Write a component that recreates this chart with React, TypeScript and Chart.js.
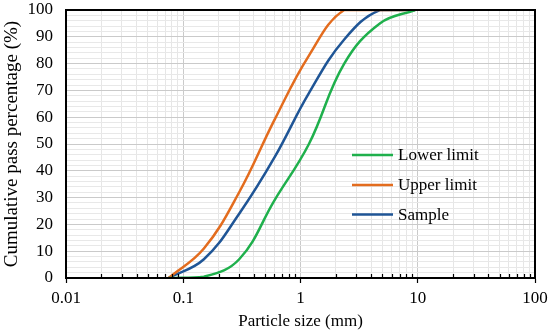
import React, { useEffect, useRef } from 'react';
import { Chart, registerables } from 'chart.js';

Chart.register(...registerables);

// Sieve sizes (mm)
const sieveSizes = [0.075, 0.15, 0.3, 0.6, 1.18, 2.36, 4.75, 9.5];
// Cumulative pass percentage (%)
const lowerLimit = [0, 0.5, 7, 29, 50, 80, 95, 100];
const upperLimit = [0, 11, 32, 59, 83, 100, 100, 100];
const sampleValues = [0, 7, 24, 45, 69, 89, 100, 100];

const seriesLabels = ['Lower limit', 'Upper limit', 'Sample'];
const seriesColors = ['#1fb04c', '#e36c1e', '#1f5596'];

const xTickLabels = ['0.01', '0.1', '1', '10', '100'];
const xDecades = [0.01, 0.1, 1, 10, 100];
const xMinorMultipliers = [1, 2, 3, 4, 5, 6, 7, 8, 9];
const yTickLabels = ['0', '10', '20', '30', '40', '50', '60', '70', '80', '90', '100'];
const yGridStep = 2;

const FONT = "'Liberation Serif', 'Times New Roman', serif";

function buildXTicks() {
  const ticks: { value: number; major: boolean }[] = [];
  for (let d = 0; d < xDecades.length - 1; d++) {
    for (const m of xMinorMultipliers) {
      const v = parseFloat((m * xDecades[d]).toPrecision(6));
      ticks.push({ value: v, major: m === 1 });
    }
  }
  ticks.push({ value: xDecades[xDecades.length - 1], major: true });
  return ticks;
}

function buildYTicks() {
  const ticks: { value: number; major: boolean }[] = [];
  for (let v = 0; v <= 100; v += yGridStep) {
    ticks.push({ value: v, major: v % 10 === 0 });
  }
  return ticks;
}

const frameAndLegend = {
  id: 'frameAndLegend',
  afterDraw(chart: any) {
    const { ctx, chartArea } = chart;
    const xs = chart.scales.x;
    ctx.save();
    // minor tick marks pointing inward on the x axis
    ctx.strokeStyle = '#000';
    ctx.lineWidth = 1.2;
    xs.ticks.forEach((t: any) => {
      if (t.major) return;
      const px = Math.round(xs.getPixelForValue(t.value)) + 0.5;
      ctx.beginPath();
      ctx.moveTo(px, chartArea.bottom);
      ctx.lineTo(px, chartArea.bottom - 4);
      ctx.stroke();
    });
    // frame
    ctx.lineWidth = 2;
    ctx.strokeStyle = '#000';
    ctx.strokeRect(chartArea.left, chartArea.top, chartArea.right - chartArea.left, chartArea.bottom - chartArea.top);
    // legend
    const legendY = [155, 185, 214.5];
    ctx.font = `17px ${FONT}`;
    ctx.textBaseline = 'middle';
    ctx.textAlign = 'left';
    chart.data.datasets.forEach((ds: any, i: number) => {
      const y = legendY[i];
      ctx.strokeStyle = ds.borderColor;
      ctx.lineWidth = 2.5;
      ctx.beginPath();
      ctx.moveTo(352, y);
      ctx.lineTo(393, y);
      ctx.stroke();
      ctx.fillStyle = '#000';
      ctx.fillText(ds.label, 398, y + 1);
    });
    ctx.restore();
  },
};

export default function App() {
  const canvasRef = useRef<HTMLCanvasElement | null>(null);

  useEffect(() => {
    if (!canvasRef.current) return;
    const series = [lowerLimit, upperLimit, sampleValues];
    const chart = new Chart(canvasRef.current, {
      type: 'line',
      data: {
        datasets: series.map((vals, i) => ({
          label: seriesLabels[i],
          data: sieveSizes.map((s, j) => ({ x: s, y: vals[j] })),
          borderColor: seriesColors[i],
          backgroundColor: seriesColors[i],
          borderWidth: 2.5,
          pointRadius: 0,
          tension: 0.4,
          fill: false,
        })),
      },
      options: {
        animation: false,
        responsive: false,
        layout: { padding: { top: 10, right: 15, left: 0, bottom: 0 } },
        plugins: {
          legend: { display: false },
          tooltip: { enabled: false },
        },
        scales: {
          x: {
            type: 'logarithmic',
            min: 0.01,
            max: 100,
            afterBuildTicks: (scale: any) => {
              scale.ticks = buildXTicks();
            },
            afterFit: (scale: any) => {
              scale.height = 58;
              scale.paddingLeft = 0;
              scale.paddingRight = 0;
            },
            grid: {
              color: (c: any) => (c.tick && c.tick.major ? '#cacaca' : '#e6e6e6'),
              lineWidth: 1,
              drawTicks: true,
              tickLength: 5,
              tickColor: (c: any) => (c.tick && c.tick.major ? '#000' : 'rgba(0,0,0,0)'),
              tickWidth: 1.2,
            },
            border: { color: '#000', width: 2 },
            ticks: {
              autoSkip: false,
              maxRotation: 0,
              minRotation: 0,
              padding: 5,
              color: '#000',
              font: { family: FONT, size: 17 },
              callback: (value: any) => {
                const v = Number(value);
                const idx = xDecades.findIndex((d) => Math.abs(Math.log10(v) - Math.log10(d)) < 1e-6);
                return idx >= 0 ? xTickLabels[idx] : '';
              },
            },
            title: {
              display: true,
              text: 'Particle size (mm)',
              color: '#000',
              font: { family: FONT, size: 17 },
              padding: { top: 0, bottom: 4 },
            },
          },
          y: {
            type: 'linear',
            min: 0,
            max: 100,
            afterBuildTicks: (scale: any) => {
              scale.ticks = buildYTicks();
            },
            afterFit: (scale: any) => {
              scale.width = 66;
              scale.paddingTop = 0;
              scale.paddingBottom = 0;
            },
            grid: {
              color: (c: any) => (c.tick && c.tick.major ? '#cacaca' : '#e8e8e8'),
              lineWidth: 1,
              drawTicks: false,
            },
            border: { color: '#000', width: 2 },
            ticks: {
              autoSkip: false,
              padding: 13,
              color: '#000',
              font: { family: FONT, size: 17 },
              callback: (value: any) => {
                const v = Number(value);
                if (v % 10 !== 0) return '';
                return yTickLabels[v / 10];
              },
            },
            title: {
              display: true,
              text: 'Cumulative pass percentage (%)',
              color: '#000',
              font: { family: FONT, size: 19 },
              padding: { top: 1, bottom: 0 },
            },
          },
        },
      },
      plugins: [frameAndLegend],
    });
    return () => chart.destroy();
  }, []);

  return (
    <div style={{ position: 'absolute', left: 0, top: 0, width: 550, height: 336, background: '#fff' }}>
      <canvas ref={canvasRef} width={550} height={336} style={{ display: 'block' }} />
    </div>
  );
}
